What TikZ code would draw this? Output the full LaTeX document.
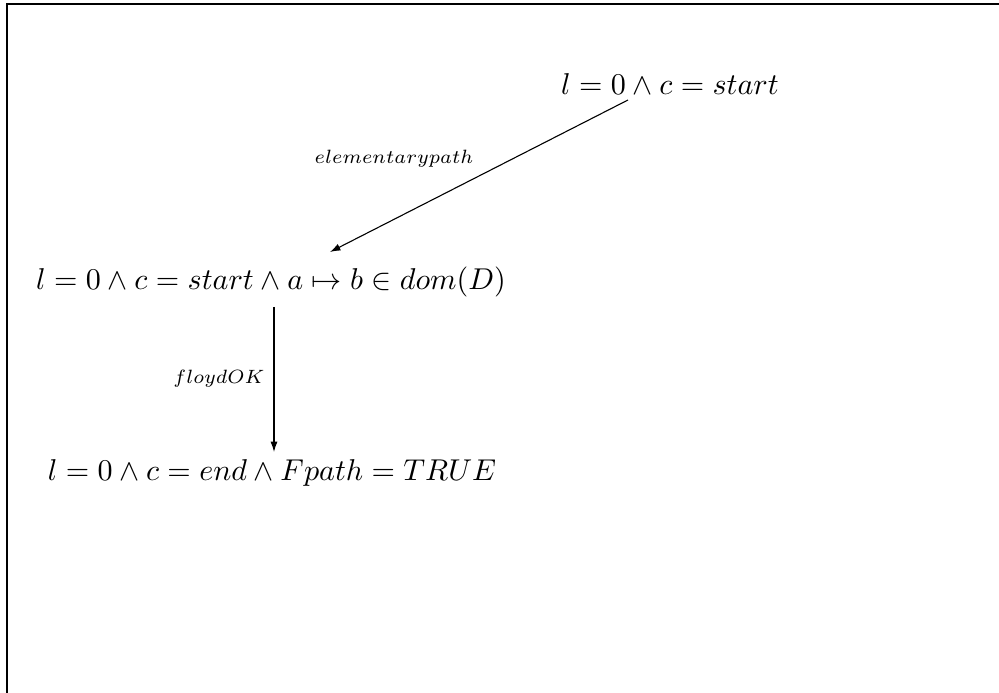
\documentclass[tikz,border=0pt]{standalone}
\usetikzlibrary{arrows.meta}
\begin{document}
\begin{tikzpicture}[x=0.3636pt,y=-0.3636pt,
  state/.style={inner sep=0pt,font=\fontsize{10.75}{13}\selectfont},
  lbl/.style={font=\fontsize{7.2}{9}\selectfont},
  conn/.style={-{Latex[length=3.8pt,width=2.6pt]},line width=0.4pt}]
\useasboundingbox (0,0) rectangle (999,693);
\draw[line width=0.5pt] (7,700) -- (7,4) -- (1010,4);
\node[state] (A) at (670,84) {$l = 0 \wedge c = start$};
\node[state] (B) at (271,282) {$l = 0 \wedge c = start \wedge a \mapsto b \in dom(D)$};
\node[state] (C) at (272,473) {$l = 0 \wedge c = end \wedge Fpath = TRUE$};
\coordinate (a1) at (628,100);
\coordinate (b1) at (330,252);
\coordinate (b2) at (274,307);
\coordinate (c2) at (274,452);
\draw[conn] (a1) -- (b1);
\draw[conn] (b2) -- (c2);
\node[lbl] (L1) at (394,159) {$elementarypath$};
\node[lbl] (L2) at (219,379) {$floydOK$};
\end{tikzpicture}
\end{document}
